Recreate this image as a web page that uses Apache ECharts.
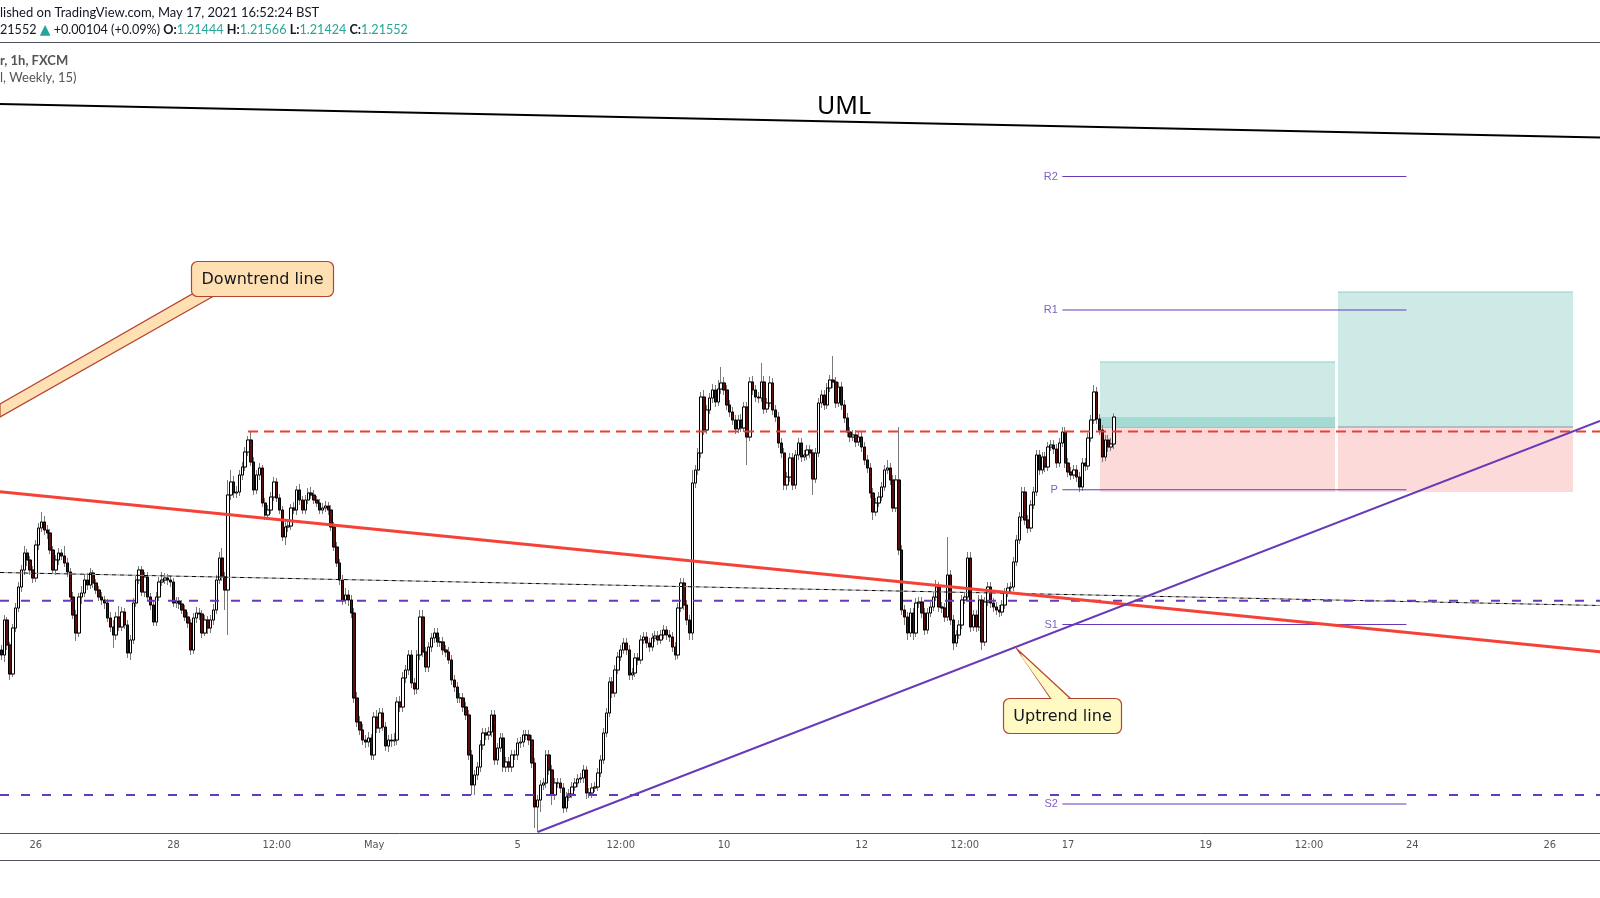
<!DOCTYPE html>
<html>
<head>
<meta charset="utf-8">
<title>EUR/USD 1h, FXCM</title>
<script src="https://cdn.jsdelivr.net/npm/echarts@6/dist/echarts.min.js"></script>
<style>
  html, body { margin: 0; padding: 0; background: #fff; }
  #chart { width: 1600px; height: 898px; }
</style>
</head>
<body>
<div id="chart"></div>
<script>
// ---- axis calendar (FX hourly session, BST) ----
const sessionStartUtc = Date.UTC(2021, 3, 23, 12);   // first visible bar, Fri 23 Apr 12:00
const barCount = 558;                                 // bars incl. empty future space

const tickTimes = ['2021-04-26 00:00', '2021-04-28 00:00', '2021-04-29 12:00', '2021-05-02 22:00',
  '2021-05-05 00:00', '2021-05-06 12:00', '2021-05-10 00:00', '2021-05-12 00:00', '2021-05-13 12:00',
  '2021-05-17 00:00', '2021-05-19 00:00', '2021-05-20 12:00', '2021-05-24 00:00', '2021-05-26 00:00'];
const tickLabels = ['26', '28', '12:00', 'May', '5', '12:00', '10', '12', '12:00', '17', '19', '12:00', '24', '26'];

// ---- hourly candles ----
const opens = [
  1.20620,1.20600,1.20740,1.20640,1.20524,1.20708,1.20788,1.20872,1.20940,1.21008,
  1.20980,1.20940,1.20908,1.21040,1.21108,1.21132,1.21100,1.21088,1.21020,1.20940,
  1.20980,1.21008,1.20996,1.20968,1.20932,1.20832,1.20760,1.20688,1.20832,1.20848,
  1.20900,1.20880,1.20928,1.20888,1.20860,1.20832,1.20820,1.20808,1.20748,1.20712,
  1.20680,1.20752,1.20712,1.20772,1.20720,1.20608,1.20660,1.20808,1.20900,1.20940,
  1.20852,1.20912,1.20832,1.20800,1.20732,1.20832,1.20892,1.20900,1.20908,1.20900,
  1.20892,1.20808,1.20816,1.20804,1.20780,1.20752,1.20728,1.20620,1.20748,1.20768,
  1.20764,1.20688,1.20740,1.20708,1.20740,1.20780,1.20900,1.20988,1.20912,1.20860,
  1.21240,1.21292,1.21248,1.21252,1.21320,1.21352,1.21412,1.21460,1.21372,1.21260,
  1.21320,1.21348,1.21208,1.21160,1.21180,1.21232,1.21292,1.21228,1.21180,1.21072,
  1.21112,1.21116,1.21188,1.21180,1.21260,1.21220,1.21180,1.21220,1.21248,1.21240,
  1.21220,1.21208,1.21180,1.21188,1.21196,1.21180,1.21112,1.21032,1.20968,1.20900,
  1.20820,1.20840,1.20820,1.20768,1.20428,1.20332,1.20300,1.20260,1.20252,1.20268,
  1.20200,1.20352,1.20308,1.20368,1.20312,1.20236,1.20260,1.20256,1.20260,1.20412,
  1.20392,1.20508,1.20540,1.20600,1.20488,1.20464,1.20600,1.20752,1.20612,1.20552,
  1.20632,1.20668,1.20688,1.20652,1.20652,1.20620,1.20612,1.20580,1.20500,1.20472,
  1.20428,1.20428,1.20392,1.20360,1.20200,1.20080,1.20120,1.20152,1.20240,1.20288,
  1.20280,1.20292,1.20360,1.20180,1.20228,1.20268,1.20152,1.20172,1.20152,1.20200,
  1.20200,1.20248,1.20252,1.20280,1.20280,1.20260,1.20168,1.19992,1.20020,1.20080,
  1.20088,1.20200,1.20140,1.20040,1.20088,1.20088,1.20068,1.19988,1.20032,1.20044,
  1.20072,1.20088,1.20104,1.20108,1.20140,1.20048,1.20048,1.20068,1.20072,1.20128,
  1.20180,1.20288,1.20368,1.20492,1.20448,1.20540,1.20592,1.20620,1.20648,1.20620,
  1.20520,1.20528,1.20588,1.20580,1.20660,1.20672,1.20648,1.20632,1.20668,1.20676,
  1.20660,1.20680,1.20700,1.20680,1.20672,1.20632,1.20600,1.20788,1.20888,1.20800,
  1.20740,1.20688,1.21288,1.21340,1.21408,1.21632,1.21500,1.21580,1.21628,1.21660,
  1.21612,1.21664,1.21688,1.21660,1.21600,1.21572,1.21540,1.21504,1.21540,1.21508,
  1.21592,1.21472,1.21692,1.21660,1.21632,1.21628,1.21692,1.21584,1.21608,1.21688,
  1.21580,1.21552,1.21448,1.21408,1.21280,1.21312,1.21388,1.21280,1.21400,1.21448,
  1.21392,1.21400,1.21420,1.21408,1.21304,1.21408,1.21608,1.21640,1.21600,1.21668,
  1.21700,1.21692,1.21608,1.21672,1.21600,1.21548,1.21492,1.21472,1.21480,1.21452,
  1.21472,1.21432,1.21380,1.21348,1.21248,1.21172,1.21208,1.21232,1.21272,1.21340,
  1.21348,1.21300,1.21188,1.21300,1.21020,1.20780,1.20752,1.20688,1.20768,1.20688,
  1.20808,1.20812,1.20768,1.20700,1.20768,1.20792,1.20832,1.20872,1.20792,1.20788,
  1.20752,1.20920,1.20740,1.20648,1.20680,1.20720,1.20820,1.20832,1.20988,1.20712,
  1.20760,1.20712,1.20820,1.20652,1.20812,1.20872,1.20808,1.20792,1.20780,1.20772,
  1.20800,1.20848,1.20868,1.20872,1.20972,1.21060,1.21152,1.21252,1.21140,1.21108,
  1.21200,1.21252,1.21400,1.21340,1.21392,1.21352,1.21432,1.21440,1.21424,1.21368,
  1.21448,1.21492,1.21368,1.21332,1.21320,1.21340,1.21312,1.21272,1.21368,1.21356,
  1.21468,1.21540,1.21652,1.21544,1.21500,1.21392,1.21460,1.21432,1.21444
];
const closes = [
  1.20600,1.20740,1.20640,1.20524,1.20708,1.20788,1.20872,1.20940,1.21008,1.20980,
  1.20940,1.20908,1.21040,1.21108,1.21132,1.21100,1.21088,1.21020,1.20940,1.20980,
  1.21008,1.20996,1.20968,1.20932,1.20832,1.20760,1.20688,1.20832,1.20848,1.20900,
  1.20880,1.20928,1.20888,1.20860,1.20832,1.20820,1.20808,1.20748,1.20712,1.20680,
  1.20752,1.20712,1.20772,1.20720,1.20608,1.20660,1.20808,1.20900,1.20940,1.20852,
  1.20912,1.20832,1.20800,1.20732,1.20832,1.20892,1.20900,1.20908,1.20900,1.20892,
  1.20808,1.20816,1.20804,1.20780,1.20752,1.20728,1.20620,1.20748,1.20768,1.20764,
  1.20688,1.20740,1.20708,1.20740,1.20780,1.20900,1.20988,1.20912,1.20860,1.21240,
  1.21292,1.21248,1.21252,1.21320,1.21352,1.21412,1.21460,1.21372,1.21260,1.21320,
  1.21348,1.21208,1.21160,1.21180,1.21232,1.21292,1.21228,1.21180,1.21072,1.21112,
  1.21116,1.21188,1.21180,1.21260,1.21220,1.21180,1.21220,1.21248,1.21240,1.21220,
  1.21208,1.21180,1.21188,1.21196,1.21180,1.21112,1.21032,1.20968,1.20900,1.20820,
  1.20840,1.20820,1.20768,1.20428,1.20332,1.20300,1.20260,1.20252,1.20268,1.20200,
  1.20352,1.20308,1.20368,1.20312,1.20236,1.20260,1.20256,1.20260,1.20412,1.20392,
  1.20508,1.20540,1.20600,1.20488,1.20464,1.20600,1.20752,1.20612,1.20552,1.20632,
  1.20668,1.20688,1.20652,1.20652,1.20620,1.20612,1.20580,1.20500,1.20472,1.20428,
  1.20428,1.20392,1.20360,1.20200,1.20080,1.20120,1.20152,1.20240,1.20288,1.20280,
  1.20292,1.20360,1.20180,1.20228,1.20268,1.20152,1.20172,1.20152,1.20200,1.20200,
  1.20248,1.20252,1.20280,1.20280,1.20260,1.20168,1.19992,1.20020,1.20080,1.20088,
  1.20200,1.20140,1.20040,1.20088,1.20088,1.20068,1.19988,1.20032,1.20044,1.20072,
  1.20088,1.20104,1.20108,1.20140,1.20048,1.20048,1.20068,1.20072,1.20128,1.20180,
  1.20288,1.20368,1.20492,1.20448,1.20540,1.20592,1.20620,1.20648,1.20620,1.20520,
  1.20528,1.20588,1.20580,1.20660,1.20672,1.20648,1.20632,1.20668,1.20676,1.20660,
  1.20680,1.20700,1.20680,1.20672,1.20632,1.20600,1.20788,1.20888,1.20800,1.20740,
  1.20688,1.21288,1.21340,1.21408,1.21632,1.21500,1.21580,1.21628,1.21660,1.21612,
  1.21664,1.21688,1.21660,1.21600,1.21572,1.21540,1.21504,1.21540,1.21508,1.21592,
  1.21472,1.21692,1.21660,1.21632,1.21628,1.21692,1.21584,1.21608,1.21688,1.21580,
  1.21552,1.21448,1.21408,1.21280,1.21312,1.21388,1.21280,1.21400,1.21448,1.21392,
  1.21400,1.21420,1.21408,1.21304,1.21408,1.21608,1.21640,1.21600,1.21668,1.21700,
  1.21692,1.21608,1.21672,1.21600,1.21548,1.21492,1.21472,1.21480,1.21452,1.21472,
  1.21432,1.21380,1.21348,1.21248,1.21172,1.21208,1.21232,1.21272,1.21340,1.21348,
  1.21300,1.21188,1.21300,1.21020,1.20780,1.20752,1.20688,1.20768,1.20688,1.20808,
  1.20812,1.20768,1.20700,1.20768,1.20792,1.20832,1.20872,1.20792,1.20788,1.20752,
  1.20920,1.20740,1.20648,1.20680,1.20720,1.20820,1.20832,1.20988,1.20712,1.20760,
  1.20712,1.20820,1.20652,1.20812,1.20872,1.20808,1.20792,1.20780,1.20772,1.20800,
  1.20848,1.20868,1.20872,1.20972,1.21060,1.21152,1.21252,1.21140,1.21108,1.21200,
  1.21252,1.21400,1.21340,1.21392,1.21352,1.21432,1.21440,1.21424,1.21368,1.21448,
  1.21492,1.21368,1.21332,1.21320,1.21340,1.21312,1.21272,1.21368,1.21356,1.21468,
  1.21540,1.21652,1.21544,1.21500,1.21392,1.21460,1.21432,1.21444,1.21552
];
const highs = [
  1.20640,1.20760,1.20752,1.20652,1.20724,1.20808,1.20892,1.20960,1.21036,1.21024,
  1.20996,1.20956,1.21060,1.21128,1.21172,1.21156,1.21120,1.21104,1.21036,1.21000,
  1.21028,1.21024,1.21036,1.20988,1.20948,1.20852,1.20780,1.20848,1.20876,1.20924,
  1.20928,1.20948,1.20940,1.20904,1.20876,1.20852,1.20836,1.20824,1.20772,1.20740,
  1.20772,1.20796,1.20792,1.20788,1.20740,1.20680,1.20828,1.20916,1.20956,1.20956,
  1.20932,1.20932,1.20848,1.20820,1.20852,1.20912,1.20932,1.20928,1.20924,1.20916,
  1.20908,1.20832,1.20832,1.20820,1.20800,1.20772,1.20744,1.20768,1.20792,1.20788,
  1.20780,1.20760,1.20756,1.20760,1.20804,1.20920,1.21012,1.21028,1.20932,1.21300,
  1.21340,1.21316,1.21276,1.21340,1.21372,1.21432,1.21476,1.21492,1.21392,1.21340,
  1.21368,1.21360,1.21228,1.21200,1.21252,1.21312,1.21308,1.21244,1.21196,1.21132,
  1.21140,1.21204,1.21212,1.21276,1.21284,1.21236,1.21240,1.21268,1.21272,1.21260,
  1.21236,1.21224,1.21208,1.21216,1.21212,1.21200,1.21132,1.21052,1.20984,1.20920,
  1.20868,1.20860,1.20840,1.20788,1.20452,1.20356,1.20324,1.20280,1.20292,1.20284,
  1.20372,1.20380,1.20388,1.20388,1.20332,1.20280,1.20284,1.20288,1.20432,1.20436,
  1.20532,1.20560,1.20620,1.20620,1.20508,1.20620,1.20780,1.20780,1.20632,1.20652,
  1.20688,1.20708,1.20708,1.20672,1.20672,1.20640,1.20632,1.20600,1.20520,1.20492,
  1.20448,1.20448,1.20412,1.20380,1.20220,1.20140,1.20172,1.20260,1.20308,1.20308,
  1.20312,1.20380,1.20380,1.20248,1.20288,1.20288,1.20192,1.20192,1.20220,1.20220,
  1.20268,1.20272,1.20300,1.20300,1.20300,1.20280,1.20188,1.20040,1.20100,1.20108,
  1.20220,1.20220,1.20160,1.20108,1.20108,1.20108,1.20088,1.20052,1.20064,1.20092,
  1.20108,1.20124,1.20128,1.20160,1.20156,1.20068,1.20088,1.20092,1.20148,1.20200,
  1.20308,1.20388,1.20512,1.20512,1.20560,1.20612,1.20640,1.20668,1.20668,1.20640,
  1.20548,1.20608,1.20608,1.20680,1.20692,1.20692,1.20668,1.20688,1.20696,1.20696,
  1.20700,1.20720,1.20716,1.20700,1.20692,1.20652,1.20808,1.20908,1.20908,1.20820,
  1.20760,1.21340,1.21360,1.21428,1.21652,1.21660,1.21600,1.21648,1.21684,1.21680,
  1.21700,1.21752,1.21712,1.21680,1.21620,1.21592,1.21560,1.21560,1.21564,1.21612,
  1.21612,1.21712,1.21716,1.21680,1.21652,1.21768,1.21716,1.21628,1.21716,1.21708,
  1.21600,1.21572,1.21468,1.21428,1.21332,1.21408,1.21408,1.21420,1.21468,1.21468,
  1.21420,1.21440,1.21440,1.21424,1.21428,1.21628,1.21660,1.21660,1.21688,1.21720,
  1.21796,1.21712,1.21692,1.21692,1.21620,1.21568,1.21512,1.21500,1.21500,1.21492,
  1.21492,1.21452,1.21400,1.21368,1.21268,1.21228,1.21252,1.21292,1.21360,1.21380,
  1.21368,1.21320,1.21320,1.21512,1.21040,1.20800,1.20772,1.20788,1.20788,1.20828,
  1.20832,1.20832,1.20788,1.20788,1.20812,1.20852,1.20900,1.20892,1.20812,1.20808,
  1.21072,1.20940,1.20760,1.20700,1.20740,1.20840,1.20852,1.21012,1.21012,1.20780,
  1.20780,1.20840,1.20840,1.20832,1.20892,1.20892,1.20828,1.20812,1.20800,1.20820,
  1.20868,1.20888,1.20892,1.20992,1.21080,1.21172,1.21272,1.21272,1.21160,1.21220,
  1.21272,1.21420,1.21420,1.21412,1.21412,1.21452,1.21460,1.21460,1.21444,1.21468,
  1.21512,1.21512,1.21388,1.21352,1.21360,1.21360,1.21332,1.21388,1.21388,1.21488,
  1.21560,1.21680,1.21672,1.21564,1.21520,1.21480,1.21480,1.21468,1.21566
];
const lows = [
  1.20580,1.20572,1.20620,1.20500,1.20512,1.20692,1.20772,1.20852,1.20920,1.20956,
  1.20920,1.20888,1.20892,1.21020,1.21092,1.21080,1.21064,1.21004,1.20924,1.20920,
  1.20960,1.20980,1.20952,1.20912,1.20816,1.20744,1.20656,1.20672,1.20804,1.20832,
  1.20860,1.20864,1.20868,1.20844,1.20816,1.20800,1.20784,1.20732,1.20692,1.20628,
  1.20660,1.20696,1.20696,1.20704,1.20588,1.20580,1.20644,1.20792,1.20884,1.20836,
  1.20832,1.20816,1.20780,1.20716,1.20716,1.20816,1.20876,1.20884,1.20880,1.20872,
  1.20792,1.20788,1.20784,1.20764,1.20736,1.20708,1.20600,1.20604,1.20728,1.20740,
  1.20668,1.20676,1.20684,1.20688,1.20720,1.20764,1.20884,1.20896,1.20780,1.20680,
  1.21220,1.21228,1.21228,1.21236,1.21300,1.21336,1.21396,1.21356,1.21240,1.21244,
  1.21300,1.21192,1.21140,1.21144,1.21164,1.21216,1.21212,1.21164,1.21056,1.21040,
  1.21092,1.21100,1.21164,1.21160,1.21200,1.21164,1.21164,1.21204,1.21224,1.21204,
  1.21192,1.21164,1.21164,1.21172,1.21160,1.21096,1.21016,1.20952,1.20880,1.20800,
  1.20804,1.20796,1.20748,1.20408,1.20312,1.20280,1.20240,1.20228,1.20232,1.20180,
  1.20180,1.20288,1.20288,1.20296,1.20216,1.20212,1.20232,1.20236,1.20240,1.20372,
  1.20372,1.20488,1.20520,1.20468,1.20440,1.20444,1.20580,1.20592,1.20532,1.20532,
  1.20612,1.20648,1.20632,1.20632,1.20600,1.20592,1.20564,1.20480,1.20452,1.20408,
  1.20408,1.20372,1.20340,1.20180,1.20040,1.20040,1.20100,1.20132,1.20220,1.20260,
  1.20260,1.20272,1.20160,1.20160,1.20212,1.20132,1.20132,1.20132,1.20132,1.20180,
  1.20180,1.20228,1.20232,1.20260,1.20240,1.20148,1.19908,1.19892,1.19972,1.20060,
  1.20068,1.20120,1.20000,1.20020,1.20068,1.20048,1.19968,1.19972,1.20016,1.20028,
  1.20056,1.20072,1.20088,1.20088,1.20024,1.20028,1.20028,1.20052,1.20056,1.20112,
  1.20164,1.20272,1.20352,1.20428,1.20432,1.20524,1.20576,1.20604,1.20600,1.20500,
  1.20500,1.20512,1.20560,1.20564,1.20644,1.20628,1.20612,1.20616,1.20652,1.20640,
  1.20644,1.20664,1.20660,1.20652,1.20612,1.20580,1.20584,1.20772,1.20780,1.20720,
  1.20660,1.20660,1.21268,1.21320,1.21388,1.21480,1.21484,1.21564,1.21608,1.21592,
  1.21596,1.21644,1.21640,1.21580,1.21552,1.21520,1.21484,1.21488,1.21492,1.21492,
  1.21360,1.21456,1.21640,1.21612,1.21608,1.21612,1.21564,1.21568,1.21592,1.21560,
  1.21532,1.21428,1.21388,1.21260,1.21260,1.21292,1.21260,1.21264,1.21380,1.21372,
  1.21376,1.21380,1.21388,1.21240,1.21288,1.21392,1.21588,1.21580,1.21584,1.21652,
  1.21668,1.21588,1.21592,1.21580,1.21528,1.21472,1.21452,1.21456,1.21432,1.21436,
  1.21412,1.21360,1.21328,1.21228,1.21140,1.21156,1.21192,1.21216,1.21256,1.21324,
  1.21280,1.21172,1.21172,1.21000,1.20760,1.20720,1.20660,1.20672,1.20660,1.20672,
  1.20788,1.20748,1.20680,1.20684,1.20752,1.20776,1.20816,1.20772,1.20768,1.20732,
  1.20736,1.20720,1.20620,1.20632,1.20664,1.20704,1.20804,1.20816,1.20692,1.20696,
  1.20692,1.20696,1.20620,1.20636,1.20796,1.20788,1.20772,1.20760,1.20752,1.20756,
  1.20784,1.20832,1.20852,1.20856,1.20956,1.21044,1.21136,1.21120,1.21088,1.21092,
  1.21184,1.21236,1.21320,1.21324,1.21332,1.21336,1.21416,1.21404,1.21348,1.21352,
  1.21432,1.21348,1.21312,1.21300,1.21304,1.21292,1.21252,1.21256,1.21336,1.21340,
  1.21452,1.21524,1.21524,1.21480,1.21372,1.21376,1.21412,1.21416,1.21424
];

// ---- drawings, as [bar index, price] ----
const umlLine = [[-0.5, 1.22804], [557.5, 1.22670]];
const downtrendLine = [[-0.5, 1.21253], [557.5, 1.20613]];
const uptrendLine = [[187, 1.19892], [557.5, 1.21536]];
const medianLine = [[-0.5, 1.20930], [557.5, 1.20798]];
const resistanceLevel = [[86, 1.21494], [557.5, 1.21494]];
const supportLevels = [1.20817, 1.20040];

// weekly pivot points (Traditional), drawn over the current week
const pivotNames = ['R2', 'R1', 'P', 'S1', 'S2'];
const pivotValues = [1.22514, 1.21980, 1.21261, 1.20722, 1.20004];
const pivotSpan = [370, 490];

// long-position tools
const tradeFrom = [383.1, 466.1];
const tradeTo = [465.1, 548.1];
const tradeTarget = [1.21772, 1.22052];
const tradeEntry = 1.21512;
const tradeStop = 1.21252;

const priceMin = 1.19888;
const priceMax = 1.23048;

// ---- build ----
const FONT_UI = 'Lato, "Noto Sans", sans-serif';
const FONT_AXIS = '"DejaVu Sans Condensed", "Liberation Sans Narrow", "DejaVu Sans", sans-serif';
const PURPLE = '#673ab7';

function sessionHours(startMs, count) {
  const out = [];
  const pad = (n) => String(n).padStart(2, '0');
  for (let t = startMs; out.length < count; t += 3600000) {
    const d = new Date(t);
    const day = d.getUTCDay();
    const h = d.getUTCHours();
    // FX week runs Sunday 22:00 to Friday 22:00
    if (day === 6 || (day === 5 && h >= 22) || (day === 0 && h < 22)) continue;
    out.push(`${d.getUTCFullYear()}-${pad(d.getUTCMonth() + 1)}-${pad(d.getUTCDate())} ${pad(h)}:00`);
  }
  return out;
}

const hours = sessionHours(sessionStartUtc, barCount);
const tickText = new Map(tickTimes.map((t, i) => [t, tickLabels[i]]));
const isTick = (index, value) => tickText.has(value);

const candles = opens.map((o, i) => [o, closes[i], lows[i], highs[i]]);
const bodies = opens.map((o, i) => [o, closes[i], Math.min(o, closes[i]), Math.max(o, closes[i])]);

const lastClose = closes[closes.length - 1];
const boxes = [];
tradeFrom.forEach((from, k) => {
  boxes.push([from, tradeTo[k], tradeTarget[k], tradeEntry, 0]);
  boxes.push([from, tradeTo[k], tradeEntry, tradeStop, 2]);
});
boxes.push([tradeFrom[0], tradeTo[0], lastClose, tradeEntry, 1]);   // open profit of the active trade

const BOX_FILL = ['#cdeae7', '#a4dad3', '#fcdada'];

function renderBox(params, api) {
  const a = api.coord([api.value(0), api.value(2)]);
  const b = api.coord([api.value(1), api.value(3)]);
  const kind = api.value(4);
  const rect = { type: 'rect', shape: { x: a[0], y: a[1], width: b[0] - a[0], height: b[1] - a[1] }, style: { fill: BOX_FILL[kind] } };
  if (kind === 1) return rect;
  const edge = { type: 'line', shape: { x1: a[0], y1: a[1], x2: b[0], y2: a[1] },
    style: { stroke: kind === 0 ? '#8fd0c7' : '#8d8f98', lineWidth: 1 } };
  return { type: 'group', children: [rect, edge] };
}

function drawing(points, color, width, type, extra) {
  return Object.assign({
    type: 'line', xAxisIndex: 1, yAxisIndex: 0, data: points, symbol: 'none', silent: true,
    lineStyle: { color, width, type: type || 'solid' }, z: 5
  }, extra || {});
}

const series = [
  { type: 'custom', xAxisIndex: 1, yAxisIndex: 0, data: boxes, renderItem: renderBox, silent: true, z: 1,
    encode: { x: [0, 1], y: [2, 3] } },
  { type: 'candlestick', data: candles, barWidth: 2.9, silent: true, z: 3,
    itemStyle: { color: '#ffffff', color0: '#5e0d0d', borderColor: '#7a7a7a', borderColor0: '#7a7a7a', borderWidth: 1 } },
  { type: 'candlestick', data: bodies, barWidth: 2.9, silent: true, z: 4,
    itemStyle: { color: '#ffffff', color0: '#5e0d0d', borderColor: '#000000', borderColor0: '#000000', borderWidth: 1 } },
  drawing(medianLine, '#000', 1, [4, 4]),
  drawing(medianLine, '#8a8a8a', 1, [4, 4], { lineStyle: { color: '#8a8a8a', width: 1, type: [4, 4], dashOffset: 4 } }),
  drawing(resistanceLevel, '#f23a30', 2, [10, 6]),
  ...supportLevels.map((p) => drawing([[-0.5, p], [557.5, p]], PURPLE, 2, [9, 12])),
  ...pivotValues.map((p) => drawing([[pivotSpan[0], p], [pivotSpan[1], p]], PURPLE, 1)),
  drawing(downtrendLine, '#f44336', 3),
  drawing(uptrendLine, PURPLE, 2),
  drawing(umlLine, '#000000', 2),
  { type: 'scatter', xAxisIndex: 1, yAxisIndex: 0, silent: true, z: 6, symbolSize: 1,
    itemStyle: { color: 'rgba(0,0,0,0)' },
    data: pivotNames.map((n, k) => ({ value: [pivotSpan[0], pivotValues[k]], name: n })),
    label: { show: true, position: 'left', distance: 4, formatter: (p) => p.name,
      color: '#5e35b1', fontSize: 11, fontFamily: '"Liberation Sans", Arial, sans-serif' } }
];

const calloutStroke = '#b5442f';
const graphic = [
  { type: 'line', shape: { x1: 0, y1: 42.5, x2: 1600, y2: 42.5 }, style: { stroke: '#50535e', lineWidth: 1 }, z: 50 },
  { type: 'line', shape: { x1: 0, y1: 860.5, x2: 1600, y2: 860.5 }, style: { stroke: '#50535e', lineWidth: 1 }, z: 50 },
  { type: 'text', x: 0, y: 13, z: 50,
    style: { text: 'lished on TradingView.com, May 17, 2021 16:52:24 BST', fill: '#131722', font: '13px ' + FONT_UI, verticalAlign: 'middle' } },
  { type: 'text', x: 0, y: 30, z: 50,
    style: {
      text: '{k|21552 }{u|▲}{k| +0.00104 (+0.09%) }{b|O:}{v|1.21444 }{b|H:}{v|1.21566 }{b|L:}{v|1.21424 }{b|C:}{v|1.21552}',
      verticalAlign: 'middle', font: '13px ' + FONT_UI,
      rich: {
        k: { fill: '#131722', fontSize: 12.6, fontFamily: FONT_UI },
        u: { fill: '#26a69a', fontSize: 14, fontFamily: '"DejaVu Sans", sans-serif' },
        b: { fill: '#131722', fontSize: 12.6, fontFamily: FONT_UI, fontWeight: 'bold' },
        v: { fill: '#26a69a', fontSize: 12.6, fontFamily: FONT_UI }
      }
    } },
  { type: 'text', x: 0, y: 61, z: 50,
    style: { text: 'r, 1h, FXCM', fill: '#555555', font: 'bold 13px ' + FONT_UI, verticalAlign: 'middle' } },
  { type: 'text', x: 0, y: 78, z: 50,
    style: { text: 'l, Weekly, 15)', fill: '#555555', font: '13px ' + FONT_UI, verticalAlign: 'middle' } },
  { type: 'text', x: 844, y: 107, z: 50,
    style: { text: 'UML', fill: '#000000', font: '25px "Noto Sans", sans-serif', align: 'center', verticalAlign: 'middle' } },

  // "Downtrend line" callout
  { type: 'polygon', z: 60, shape: { points: [[194, 293], [212, 297], [0, 417], [0, 404]] },
    style: { fill: '#ffe0b2', stroke: calloutStroke, lineWidth: 1.2 } },
  { type: 'rect', z: 61, shape: { x: 191.5, y: 261.5, width: 142, height: 35, r: 6 },
    style: { fill: '#ffe0b2', stroke: calloutStroke, lineWidth: 1.2 } },
  { type: 'text', x: 262.5, y: 279.5, z: 62,
    style: { text: 'Downtrend line', fill: '#131722', font: '16px "DejaVu Sans", sans-serif', align: 'center', verticalAlign: 'middle' } },

  // "Uptrend line" callout
  { type: 'polygon', z: 60, shape: { points: [[1051, 699], [1071, 699], [1017, 649]] },
    style: { fill: '#fff9c4', stroke: calloutStroke, lineWidth: 1.2 } },
  { type: 'rect', z: 61, shape: { x: 1003.5, y: 698.5, width: 118, height: 35, r: 6 },
    style: { fill: '#fff9c4', stroke: calloutStroke, lineWidth: 1.2 } },
  { type: 'polygon', z: 62, shape: { points: [[1052.5, 700], [1069.5, 700], [1019, 653]] },
    style: { fill: '#fff9c4' } },
  { type: 'text', x: 1062.5, y: 716.5, z: 63,
    style: { text: 'Uptrend line', fill: '#131722', font: '16px "DejaVu Sans", sans-serif', align: 'center', verticalAlign: 'middle' } }
];

const chart = echarts.init(document.getElementById('chart'), null, { renderer: 'canvas' });
chart.setOption({
  animation: false,
  backgroundColor: '#ffffff',
  tooltip: { show: false },
  grid: { left: 0, right: 0, top: 43, bottom: 65, containLabel: false, outerBoundsMode: 'none' },
  xAxis: [
    {
      type: 'category', data: hours, boundaryGap: true,
      axisLine: { onZero: false, lineStyle: { color: '#50535e', width: 1 } },
      axisTick: { alignWithLabel: true, length: 5, interval: isTick, lineStyle: { color: '#50535e' } },
      axisLabel: { interval: isTick, formatter: (v) => tickText.get(v) || '', color: '#555555',
        fontSize: 11, margin: 7, fontFamily: FONT_AXIS, hideOverlap: false },
      splitLine: { show: false }
    },
    { type: 'value', min: -0.5, max: barCount - 0.5, show: false, splitLine: { show: false } }
  ],
  yAxis: { type: 'value', min: priceMin, max: priceMax, show: false, splitLine: { show: false } },
  series,
  graphic
});
</script>
</body>
</html>
